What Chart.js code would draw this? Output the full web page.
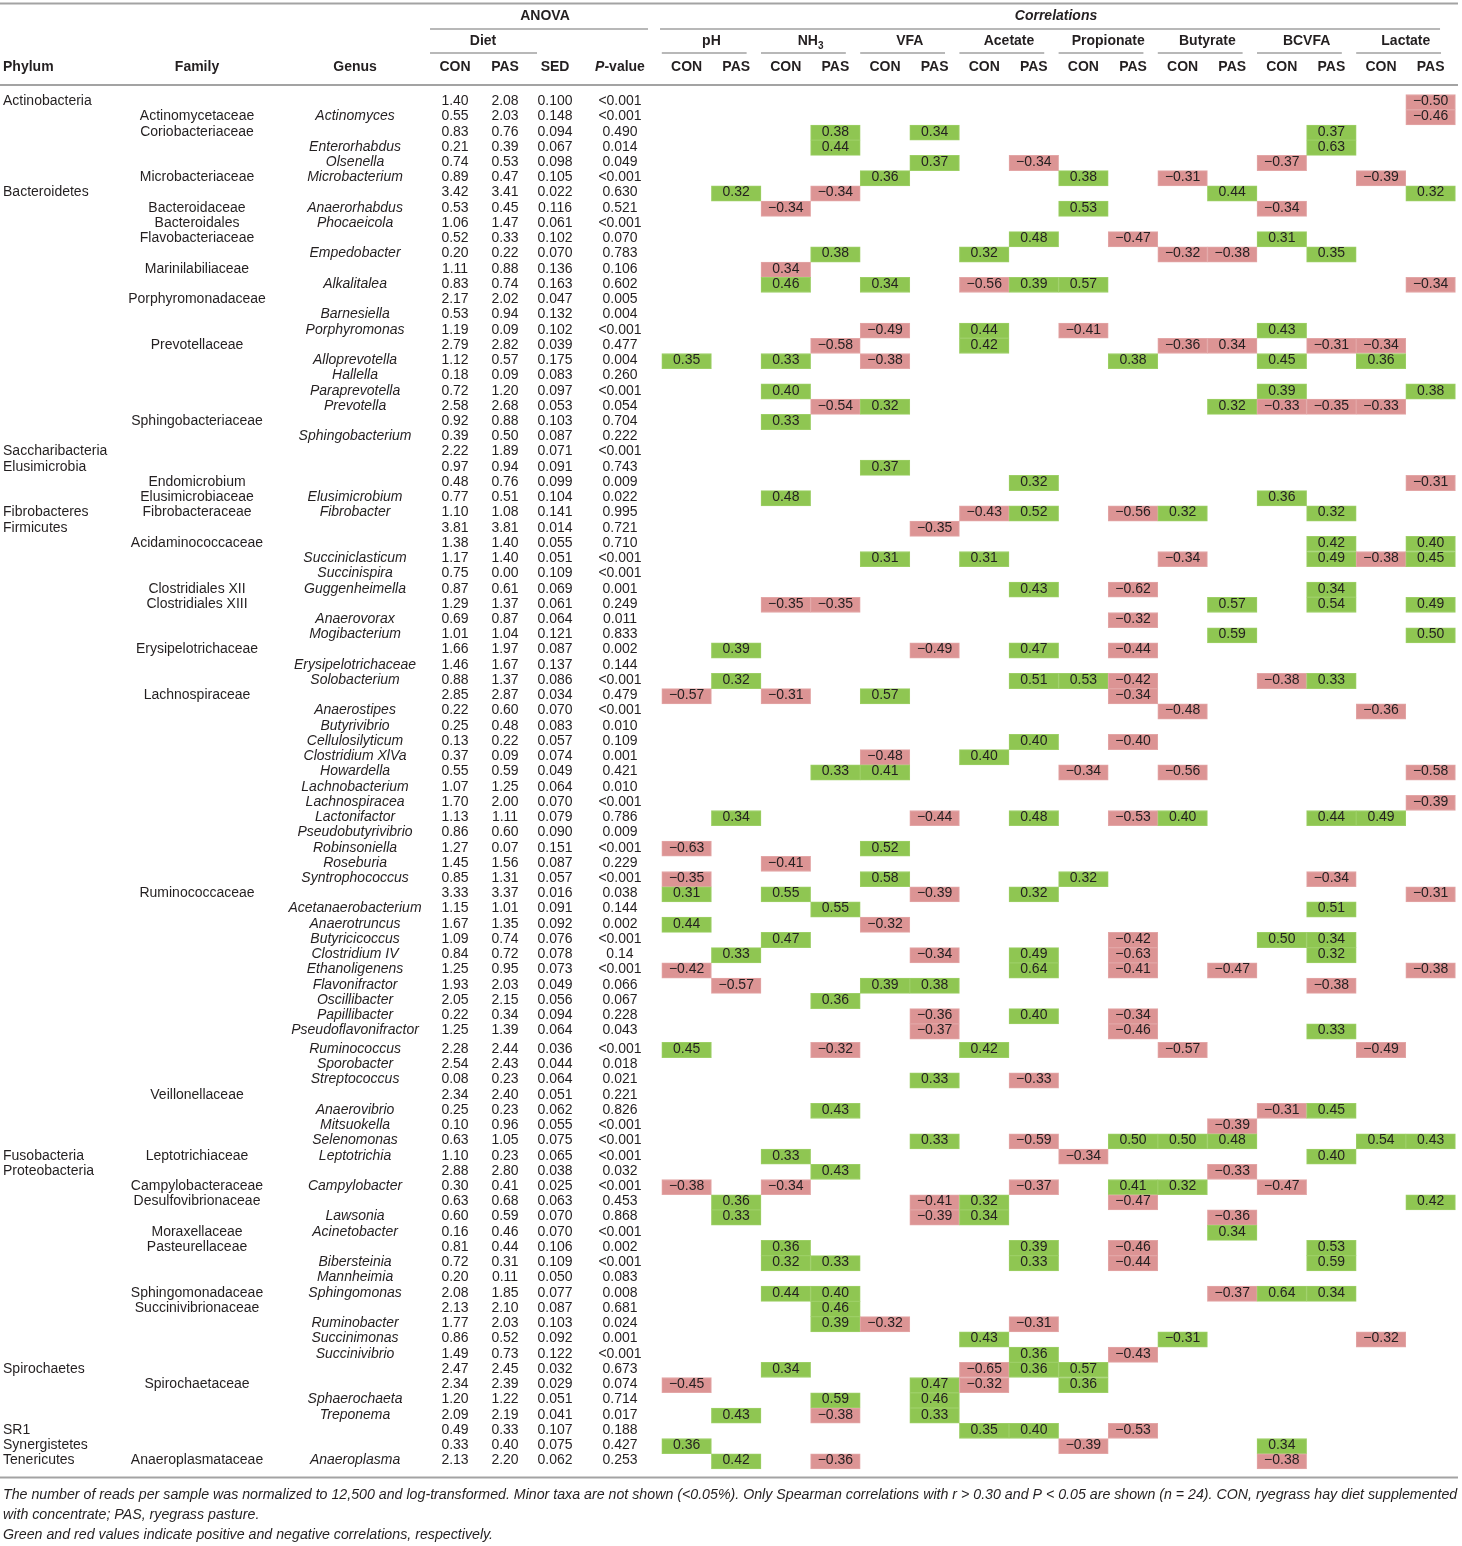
<!DOCTYPE html>
<html><head><meta charset="utf-8">
<script src="https://cdn.jsdelivr.net/npm/chart.js@4.4.1/dist/chart.umd.min.js"></script>
<style>html,body{margin:0;padding:0;background:#fff;overflow:hidden}#wrap{width:1462px;height:1546px;position:relative}</style>
</head><body><div id="wrap"><canvas id="c"></canvas></div>
<script>
// ---------- DATA ----------
const phylumLabels = [[1,"Actinobacteria"],[7,"Bacteroidetes"],[24,"Saccharibacteria"],[25,"Elusimicrobia"],[28,"Fibrobacteres"],[29,"Firmicutes"],[70,"Fusobacteria"],[71,"Proteobacteria"],[84,"Spirochaetes"],[88,"SR1"],[89,"Synergistetes"],[90,"Tenericutes"]];
const familyLabels = [[2,"Actinomycetaceae"],[3,"Coriobacteriaceae"],[6,"Microbacteriaceae"],[8,"Bacteroidaceae"],[9,"Bacteroidales"],[10,"Flavobacteriaceae"],[12,"Marinilabiliaceae"],[14,"Porphyromonadaceae"],[17,"Prevotellaceae"],[22,"Sphingobacteriaceae"],[26,"Endomicrobium"],[27,"Elusimicrobiaceae"],[28,"Fibrobacteraceae"],[30,"Acidaminococcaceae"],[33,"Clostridiales XII"],[34,"Clostridiales XIII"],[37,"Erysipelotrichaceae"],[40,"Lachnospiraceae"],[53,"Ruminococcaceae"],[66,"Veillonellaceae"],[70,"Leptotrichiaceae"],[72,"Campylobacteraceae"],[73,"Desulfovibrionaceae"],[75,"Moraxellaceae"],[76,"Pasteurellaceae"],[79,"Sphingomonadaceae"],[80,"Succinivibrionaceae"],[85,"Spirochaetaceae"],[90,"Anaeroplasmataceae"]];
const genusLabels = [[2,"Actinomyces"],[4,"Enterorhabdus"],[5,"Olsenella"],[6,"Microbacterium"],[8,"Anaerorhabdus"],[9,"Phocaeicola"],[11,"Empedobacter"],[13,"Alkalitalea"],[15,"Barnesiella"],[16,"Porphyromonas"],[18,"Alloprevotella"],[19,"Hallella"],[20,"Paraprevotella"],[21,"Prevotella"],[23,"Sphingobacterium"],[27,"Elusimicrobium"],[28,"Fibrobacter"],[31,"Succiniclasticum"],[32,"Succinispira"],[33,"Guggenheimella"],[35,"Anaerovorax"],[36,"Mogibacterium"],[38,"Erysipelotrichaceae"],[39,"Solobacterium"],[41,"Anaerostipes"],[42,"Butyrivibrio"],[43,"Cellulosilyticum"],[44,"Clostridium XlVa"],[45,"Howardella"],[46,"Lachnobacterium"],[47,"Lachnospiracea"],[48,"Lactonifactor"],[49,"Pseudobutyrivibrio"],[50,"Robinsoniella"],[51,"Roseburia"],[52,"Syntrophococcus"],[54,"Acetanaerobacterium"],[55,"Anaerotruncus"],[56,"Butyricicoccus"],[57,"Clostridium IV"],[58,"Ethanoligenens"],[59,"Flavonifractor"],[60,"Oscillibacter"],[61,"Papillibacter"],[62,"Pseudoflavonifractor"],[63,"Ruminococcus"],[64,"Sporobacter"],[65,"Streptococcus"],[67,"Anaerovibrio"],[68,"Mitsuokella"],[69,"Selenomonas"],[70,"Leptotrichia"],[72,"Campylobacter"],[74,"Lawsonia"],[75,"Acinetobacter"],[77,"Bibersteinia"],[78,"Mannheimia"],[79,"Sphingomonas"],[81,"Ruminobacter"],[82,"Succinimonas"],[83,"Succinivibrio"],[86,"Sphaerochaeta"],[87,"Treponema"],[90,"Anaeroplasma"]];

const conMean = [1.40,0.55,0.83,0.21,0.74,0.89,3.42,0.53,1.06,0.52, 0.20,1.11,0.83,2.17,0.53,1.19,2.79,1.12,0.18,0.72, 2.58,0.92,0.39,2.22,0.97,0.48,0.77,1.10,3.81,1.38, 1.17,0.75,0.87,1.29,0.69,1.01,1.66,1.46,0.88,2.85, 0.22,0.25,0.13,0.37,0.55,1.07,1.70,1.13,0.86,1.27, 1.45,0.85,3.33,1.15,1.67,1.09,0.84,1.25,1.93,2.05, 0.22,1.25,2.28,2.54,0.08,2.34,0.25,0.10,0.63,1.10, 2.88,0.30,0.63,0.60,0.16,0.81,0.72,0.20,2.08,2.13, 1.77,0.86,1.49,2.47,2.34,1.20,2.09,0.49,0.33,2.13];
const pasMean = [2.08,2.03,0.76,0.39,0.53,0.47,3.41,0.45,1.47,0.33, 0.22,0.88,0.74,2.02,0.94,0.09,2.82,0.57,0.09,1.20, 2.68,0.88,0.50,1.89,0.94,0.76,0.51,1.08,3.81,1.40, 1.40,0.00,0.61,1.37,0.87,1.04,1.97,1.67,1.37,2.87, 0.60,0.48,0.22,0.09,0.59,1.25,2.00,1.11,0.60,0.07, 1.56,1.31,3.37,1.01,1.35,0.74,0.72,0.95,2.03,2.15, 0.34,1.39,2.44,2.43,0.23,2.40,0.23,0.96,1.05,0.23, 2.80,0.41,0.68,0.59,0.46,0.44,0.31,0.11,1.85,2.10, 2.03,0.52,0.73,2.45,2.39,1.22,2.19,0.33,0.40,2.20];
const sedValues = [0.100,0.148,0.094,0.067,0.098,0.105,0.022,0.116,0.061,0.102, 0.070,0.136,0.163,0.047,0.132,0.102,0.039,0.175,0.083,0.097, 0.053,0.103,0.087,0.071,0.091,0.099,0.104,0.141,0.014,0.055, 0.051,0.109,0.069,0.061,0.064,0.121,0.087,0.137,0.086,0.034, 0.070,0.083,0.057,0.074,0.049,0.064,0.070,0.079,0.090,0.151, 0.087,0.057,0.016,0.091,0.092,0.076,0.078,0.073,0.049,0.056, 0.094,0.064,0.036,0.044,0.064,0.051,0.062,0.055,0.075,0.065, 0.038,0.025,0.063,0.070,0.070,0.106,0.109,0.050,0.077,0.087, 0.103,0.092,0.122,0.032,0.029,0.051,0.041,0.107,0.075,0.062];
const pValues = ["<0.001","<0.001","0.490","0.014","0.049","<0.001","0.630","0.521","<0.001","0.070", "0.783","0.106","0.602","0.005","0.004","<0.001","0.477","0.004","0.260","<0.001", "0.054","0.704","0.222","<0.001","0.743","0.009","0.022","0.995","0.721","0.710", "<0.001","<0.001","0.001","0.249","0.011","0.833","0.002","0.144","<0.001","0.479", "<0.001","0.010","0.109","0.001","0.421","0.010","<0.001","0.786","0.009","<0.001", "0.229","<0.001","0.038","0.144","0.002","<0.001","0.14","<0.001","0.066","0.067", "0.228","0.043","<0.001","0.018","0.021","0.221","0.826","<0.001","<0.001","<0.001", "0.032","<0.001","0.453","0.868","<0.001","0.002","<0.001","0.083","0.008","0.681", "0.024","0.001","<0.001","0.673","0.074","0.714","0.017","0.188","0.427","0.253"];

const corrGroups = ["pH","NH3","VFA","Acetate","Propionate","Butyrate","BCVFA","Lactate"];
const dietLabels = ["CON","PAS"];

// Spearman correlations: [row, r]
const pH_CON = [[18,0.35],[40,-0.57],[50,-0.63],[52,-0.35],[53,0.31],[55,0.44],[58,-0.42],[63,0.45],[72,-0.38],[85,-0.45],[89,0.36]];
const pH_PAS = [[7,0.32],[37,0.39],[39,0.32],[48,0.34],[57,0.33],[59,-0.57],[73,0.36],[74,0.33],[87,0.43],[90,0.42]];
const NH3_CON = [[8,-0.34],[12,0.34],[13,0.46],[18,0.33],[20,0.40],[22,0.33],[27,0.48],[34,-0.35],[40,-0.31],[51,-0.41],[53,0.55],[56,0.47],[70,0.33],[72,-0.34],[76,0.36],[77,0.32],[79,0.44],[84,0.34]];
const NH3_PAS = [[3,0.38],[4,0.44],[7,-0.34],[11,0.38],[17,-0.58],[21,-0.54],[34,-0.35],[45,0.33],[54,0.55],[60,0.36],[63,-0.32],[67,0.43],[71,0.43],[77,0.33],[79,0.40],[80,0.46],[81,0.39],[86,0.59],[87,-0.38],[90,-0.36]];
const VFA_CON = [[6,0.36],[13,0.34],[16,-0.49],[18,-0.38],[21,0.32],[25,0.37],[31,0.31],[40,0.57],[44,-0.48],[45,0.41],[50,0.52],[52,0.58],[55,-0.32],[59,0.39],[81,-0.32]];
const VFA_PAS = [[3,0.34],[5,0.37],[29,-0.35],[37,-0.49],[48,-0.44],[53,-0.39],[57,-0.34],[59,0.38],[61,-0.36],[62,-0.37],[65,0.33],[69,0.33],[73,-0.41],[74,-0.39],[85,0.47],[86,0.46],[87,0.33]];
const Acetate_CON = [[11,0.32],[13,-0.56],[16,0.44],[17,0.42],[28,-0.43],[31,0.31],[44,0.40],[63,0.42],[73,0.32],[74,0.34],[82,0.43],[84,-0.65],[85,-0.32],[88,0.35]];
const Acetate_PAS = [[5,-0.34],[10,0.48],[13,0.39],[26,0.32],[28,0.52],[33,0.43],[37,0.47],[39,0.51],[43,0.40],[48,0.48],[53,0.32],[57,0.49],[58,0.64],[61,0.40],[65,-0.33],[69,-0.59],[72,-0.37],[76,0.39],[77,0.33],[81,-0.31],[83,0.36],[84,0.36],[88,0.40]];
const Propionate_CON = [[6,0.38],[8,0.53],[13,0.57],[16,-0.41],[39,0.53],[45,-0.34],[52,0.32],[70,-0.34],[84,0.57],[85,0.36],[89,-0.39]];
const Propionate_PAS = [[10,-0.47],[18,0.38],[28,-0.56],[33,-0.62],[35,-0.32],[37,-0.44],[39,-0.42],[40,-0.34],[43,-0.40],[48,-0.53],[56,-0.42],[57,-0.63],[58,-0.41],[61,-0.34],[62,-0.46],[69,0.50],[72,0.41],[73,-0.47],[76,-0.46],[77,-0.44],[83,-0.43],[88,-0.53]];
const Butyrate_CON = [[6,-0.31],[11,-0.32],[17,-0.36],[28,0.32],[31,-0.34],[41,-0.48],[45,-0.56],[48,0.40],[63,-0.57],[69,0.50],[72,0.32],[82,-0.31]];
const Butyrate_PAS = [[7,0.44],[11,-0.38],[17,0.34],[21,0.32],[34,0.57],[36,0.59],[58,-0.47],[68,-0.39],[69,0.48],[71,-0.33],[74,-0.36],[75,0.34],[79,-0.37]];
const BCVFA_CON = [[5,-0.37],[8,-0.34],[10,0.31],[16,0.43],[18,0.45],[20,0.39],[21,-0.33],[27,0.36],[39,-0.38],[56,0.50],[67,-0.31],[72,-0.47],[79,0.64],[89,0.34],[90,-0.38]];
const BCVFA_PAS = [[3,0.37],[4,0.63],[11,0.35],[17,-0.31],[21,-0.35],[28,0.32],[30,0.42],[31,0.49],[33,0.34],[34,0.54],[39,0.33],[48,0.44],[52,-0.34],[54,0.51],[56,0.34],[57,0.32],[59,-0.38],[62,0.33],[67,0.45],[70,0.40],[76,0.53],[77,0.59],[79,0.34]];
const Lactate_CON = [[6,-0.39],[17,-0.34],[18,0.36],[21,-0.33],[31,-0.38],[41,-0.36],[48,0.49],[63,-0.49],[69,0.54],[82,-0.32]];
const Lactate_PAS = [[1,-0.50],[2,-0.46],[7,0.32],[13,-0.34],[20,0.38],[26,-0.31],[30,0.40],[31,0.45],[34,0.49],[36,0.50],[45,-0.58],[47,-0.39],[53,-0.31],[58,-0.38],[69,0.43],[73,0.42]];
// cells whose shading in the source differs from the sign: [column index, row, shade]
const shadeExceptions = [[2,12,"neg"],[11,17,"neg"],[10,82,"pos"]];

const footnotes = [
 "The number of reads per sample was normalized to 12,500 and log-transformed. Minor taxa are not shown (<0.05%). Only Spearman correlations with r > 0.30 and P < 0.05 are shown (n = 24). CON, ryegrass hay diet supplemented",
 "with concentrate; PAS, ryegrass pasture.",
 "Green and red values indicate positive and negative correlations, respectively."
];

// ---------- LAYOUT / STYLE ----------
const corrColumns = [pH_CON,pH_PAS,NH3_CON,NH3_PAS,VFA_CON,VFA_PAS,Acetate_CON,Acetate_PAS,Propionate_CON,Propionate_PAS,Butyrate_CON,Butyrate_PAS,BCVFA_CON,BCVFA_PAS,Lactate_CON,Lactate_PAS];
const layout = {
 xMin:-13.843, xMax:15.633, yMin:-6.702, yMax:94.775,
 colPhylum:-13.782, colFamily:-9.871, colGenus:-6.685, colCon:-4.669, colPas:-3.661, colSed:-2.653, colP:-1.343,
 ruleL:-13.843, ruleR:15.552,
 anovaC:-2.855, anovaRule:[-5.173,-0.778], dietC:-4.105, dietRule:[-5.173,-3.016],
 corrC:7.448, corrRule:[-0.536,15.19], groupRule:[-0.5,1.21],
 yTopRule:-6.472, yTitle:-5.652, yTitleRule:-4.798, yGroup:-4.011, yGroupRule:-3.223, yHead:-2.304, yHeadRule:-1.122, yBottomRule:90.28, yFoot:[91.43,92.74,94.06],
 gapAfterRow:62, gap:0.217
};
const FONT = "'Liberation Sans', Arial, Helvetica, sans-serif";
const FS = 14;
const GREEN = "#8fc652", GREEN_EDGE = "#9dcf66", RED = "#dc9494", RED_EDGE = "#e3a6a6";
const INK = "#231f20", RULE = "#a3a3a3", SUBRULE = "#b8b8b8";

function rowPos(r){ return r - 1 + (r > layout.gapAfterRow ? layout.gap : 0); }

const cells = [];
corrColumns.forEach((col,k)=>col.forEach(([r,v])=>{
  let shade = v > 0 ? "pos" : "neg";
  const ex = shadeExceptions.find(e=>e[0]===k && e[1]===r);
  if (ex) shade = ex[2];
  cells.push({x:[k-0.5,k+0.5], y:rowPos(r), v, shade});
}));
const rowTicks = conMean.map((_,i)=>({value:rowPos(i+1)}));

function fmtCorr(v){ return (v<0?"\u2212":"") + Math.abs(v).toFixed(2); }

const tablePlugin = {
  id:'tableText',
  beforeDatasetsDraw(chart){
    const c = chart.ctx, X = chart.scales.x, Y = chart.scales.y;
    const px = v=>X.getPixelForValue(v), py = v=>Y.getPixelForValue(v);
    c.save();
    const line = (a,b,y,w,col)=>{ c.beginPath(); c.strokeStyle=col; c.lineWidth=w; c.moveTo(px(a),py(y)); c.lineTo(px(b),py(y)); c.stroke(); };
    line(layout.ruleL, layout.ruleR, layout.yTopRule, 2, RULE);
    line(layout.ruleL, layout.ruleR, layout.yHeadRule, 2, RULE);
    line(layout.ruleL, layout.ruleR, layout.yBottomRule, 2, RULE);
    line(layout.anovaRule[0], layout.anovaRule[1], layout.yTitleRule, 2, SUBRULE);
    line(layout.corrRule[0], layout.corrRule[1], layout.yTitleRule, 2, SUBRULE);
    line(layout.dietRule[0], layout.dietRule[1], layout.yGroupRule, 2, SUBRULE);
    corrGroups.forEach((g,i)=>line(2*i+layout.groupRule[0], 2*i+layout.groupRule[1], layout.yGroupRule, 2, SUBRULE));
    c.restore();
  },
  afterDatasetsDraw(chart){
    const c = chart.ctx, X = chart.scales.x, Y = chart.scales.y;
    const px = v=>X.getPixelForValue(v), py = v=>Y.getPixelForValue(v);
    c.save();
    c.fillStyle = INK; c.textBaseline = 'alphabetic';
    const t = (s,x,y,align,font)=>{ c.font=font; c.textAlign=align; c.fillText(s,px(x),py(y)+4); };
    const REG = FS+"px "+FONT, IT = "italic "+FS+"px "+FONT, BOLD = "bold "+FS+"px "+FONT, BI = "italic bold "+FS+"px "+FONT;
    t("ANOVA", layout.anovaC, layout.yTitle, 'center', BOLD);
    t("Correlations", layout.corrC, layout.yTitle, 'center', BI);
    t("Diet", layout.dietC, layout.yGroup, 'center', BOLD);
    corrGroups.forEach((g,i)=>{
      const xc = px(2*i+0.5), yb = py(layout.yGroup)+4;
      if (g==="NH3"){
        c.font = BOLD; const w1 = c.measureText("NH").width;
        c.font = "bold 10px "+FONT; const w2 = c.measureText("3").width;
        const x0 = xc-(w1+w2)/2;
        c.textAlign='left'; c.font=BOLD; c.fillText("NH",x0,yb);
        c.font="bold 10px "+FONT; c.fillText("3",x0+w1,yb+4);
      } else { c.font=BOLD; c.textAlign='center'; c.fillText(g,xc,yb); }
      dietLabels.forEach((d,j)=>t(d, 2*i+j, layout.yHead, 'center', BOLD));
    });
    t("Phylum", layout.colPhylum, layout.yHead, 'left', BOLD);
    t("Family", layout.colFamily, layout.yHead, 'center', BOLD);
    t("Genus", layout.colGenus, layout.yHead, 'center', BOLD);
    t("CON", layout.colCon, layout.yHead, 'center', BOLD);
    t("PAS", layout.colPas, layout.yHead, 'center', BOLD);
    t("SED", layout.colSed, layout.yHead, 'center', BOLD);
    { c.font=BI; const w1=c.measureText("P").width; c.font=BOLD; const w2=c.measureText("-value").width;
      const x0=px(layout.colP)-(w1+w2)/2, yb=py(layout.yHead)+4;
      c.textAlign='left'; c.font=BI; c.fillText("P",x0,yb); c.font=BOLD; c.fillText("-value",x0+w1,yb); }
    phylumLabels.forEach(([r,s])=>t(s, layout.colPhylum, rowPos(r)-0.07, 'left', REG));
    familyLabels.forEach(([r,s])=>t(s, layout.colFamily, rowPos(r)-0.07, 'center', REG));
    genusLabels.forEach(([r,s])=>t(s, layout.colGenus, rowPos(r)-0.07, 'center', IT));
    conMean.forEach((v,i)=>{
      const y = rowPos(i+1)-0.07;
      t(v.toFixed(2), layout.colCon, y, 'center', REG);
      t(pasMean[i].toFixed(2), layout.colPas, y, 'center', REG);
      t(sedValues[i].toFixed(3), layout.colSed, y, 'center', REG);
      t(pValues[i], layout.colP, y, 'center', REG);
    });
    cells.forEach(cl=>t(fmtCorr(cl.v), (cl.x[0]+cl.x[1])/2, cl.y-0.07, 'center', REG));
    c.font = "italic "+FS+"px "+FONT;
    const w = c.measureText(footnotes[0]).width;
    const target = px(layout.ruleR) - px(layout.colPhylum);
    const fs = FS*target/w;
    footnotes.forEach((s,i)=>t(s, layout.colPhylum, layout.yFoot[i], 'left', "italic "+fs.toFixed(2)+"px "+FONT));
    c.restore();
  }
};

new Chart(document.getElementById('c'), {
  type:'bar',
  data:{ datasets:[{
    label:'Spearman r',
    data: cells,
    backgroundColor: ctx => (ctx.raw && ctx.raw.shade==="pos") ? GREEN : RED,
    borderColor: ctx => (ctx.raw && ctx.raw.shade==="pos") ? GREEN_EDGE : RED_EDGE,
    borderWidth: 1,
    borderSkipped: false,
    barPercentage: 1,
    categoryPercentage: 1
  }]},
  options:{
    indexAxis:'y', responsive:true, maintainAspectRatio:false, animation:false, events:[],
    layout:{padding:0, autoPadding:false},
    plugins:{legend:{display:false}, tooltip:{enabled:false}, title:{display:false}},
    scales:{
      x:{type:'linear', min:layout.xMin, max:layout.xMax, display:false, offset:false, ticks:{display:false}, grid:{display:false}},
      y:{type:'linear', reverse:true, min:layout.yMin, max:layout.yMax, display:false, offset:false, ticks:{display:false}, grid:{display:false, offset:false},
         afterBuildTicks: s => { s.ticks = rowTicks.slice(); }}
    }
  },
  plugins:[tablePlugin]
});
</script>
</body></html>
